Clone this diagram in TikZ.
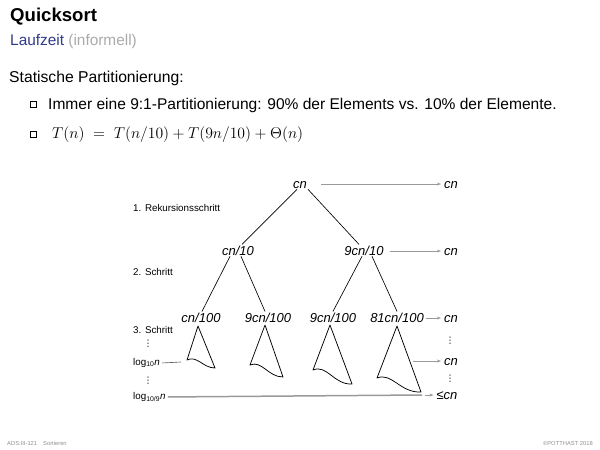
\RequirePackage{fix-cm}
\documentclass[tikz,border=0pt]{standalone}
\usepackage{fontspec}
\setmainfont{Liberation Sans}
\newfontfamily\dejavu{DejaVu Sans}
\usetikzlibrary{arrows.meta,shadows}
\definecolor{titleblue}{HTML}{2E3A87}
\definecolor{lgray}{HTML}{AAAAAA}
\definecolor{agray}{HTML}{9A9A9A}
\definecolor{fgray}{HTML}{909090}
\definecolor{dline}{HTML}{555555}
\begin{document}
\begin{tikzpicture}[x=1pt,y=-1pt,
  ttl/.style={font=\fontsize{18.6}{20}\selectfont\bfseries, anchor=base west, inner sep=0pt},
  body/.style={font=\fontsize{15.7}{19}\selectfont, anchor=base west, inner sep=0pt},
  tlab/.style={font=\fontsize{13}{14}\selectfont\itshape, anchor=base, inner sep=1pt},
  slab/.style={font=\fontsize{9.8}{11}\selectfont, anchor=base west, inner sep=0pt},
  vdots/.style={font=\fontsize{9}{10}\selectfont\dejavu, inner sep=0pt},
  foot/.style={font=\fontsize{5.8}{7}\selectfont, text=fgray, inner sep=0pt},
  bulletbox/.style={draw=black, fill=white, line width=0.5pt, minimum size=5.5pt, inner sep=0pt,
    drop shadow={shadow xshift=0.9pt, shadow yshift=-0.9pt, fill=black!70, opacity=1}},
  garrow/.style={draw=agray, line width=0.5pt, -{Stealth[length=4pt,width=3pt]}},
  tree/.style={line width=0.65pt},
  tri/.style={line width=0.75pt, line join=round}]
\useasboundingbox (0,0) rectangle (600,450);
% header
\node[ttl] (title) at (10,21.5) {Quicksort};
\node[body, font=\fontsize{15.4}{18}\selectfont] (sub) at (10,45) {\textcolor{titleblue}{Laufzeit} \textcolor{lgray}{(informell)}};
\node[body] (intro) at (9,82.5) {Statische Partitionierung:};
\node[bulletbox] (b1) at (33,104) {};
\node[body, font=\fontsize{15.55}{19}\selectfont] (t1) at (48,109.5) {Immer eine 9:1-Partitionierung: 90\% der Elements vs. 10\% der Elemente.};
\node[bulletbox] (b2) at (33,134) {};
\node[body] (t2) at (52,138.5) {$T(n) \;=\; T(n/10)+T(9n/10)+\Theta(n)$};
% tree
\node[tlab] (root) at (300,188) {cn};
\node[tlab] (l) at (238,255) {cn/10};
\node[tlab] (r) at (364,255) {9cn/10};
\node[tlab] (ll) at (201,322) {cn/100};
\node[tlab] (lr) at (268,322) {9cn/100};
\node[tlab] (rl) at (333,322) {9cn/100};
\node[tlab] (rr) at (397,322) {81cn/100};
\node[tlab] (rc1) at (451,188) {cn};
\node[tlab] (rc2) at (451,255) {cn};
\node[tlab] (rc3) at (451,322) {cn};
\node[tlab] (rc4) at (451,365) {cn};
\node[tlab] (rc5) at (447,399) {\textup{≤}cn};
\node[vdots] (rd1) at (450,341) {⋮};
\node[vdots] (rd2) at (450,379) {⋮};
% left labels
\node[slab] (s1) at (133,211.5) {1. Rekursionsschritt};
\node[slab] (s2) at (133,275.5) {2. Schritt};
\node[slab] (s3) at (133,333.5) {3. Schritt};
\node[vdots] (ld1) at (148,344) {⋮};
\node[slab] (lg1) at (133,365.5) {log\textsubscript{10}\textit{n}};
\node[vdots] (ld2) at (148,381) {⋮};
\node[slab] (lg2) at (133,399.5) {log\textsubscript{10/9}\textit{n}};
\coordinate (c1) at (181,362);
\coordinate (c2) at (422,395);
\coordinate (a4) at (413,361);
% tree edges
\draw[tree] ([xshift=-3pt]root.south) -- ([xshift=4pt]l.north);
\draw[tree] ([xshift=8pt]root.south) -- ([xshift=-5pt]r.north);
\draw[tree] ([xshift=-8pt]l.south) -- ([xshift=1pt]ll.north);
\draw[tree] ([xshift=3pt]l.south) -- ([xshift=-3pt]lr.north);
\draw[tree] ([xshift=-2pt]r.south) -- ([xshift=0pt]rl.north);
\draw[tree] ([xshift=8pt]r.south) -- ([xshift=0pt]rr.north);
% triangles
\draw[tri] (198,326) -- (187,360) .. controls (197,355) and (203,368) .. (215,368) -- cycle;
\draw[tri] (265,325) -- (250,365) .. controls (262,360) and (268,377) .. (283,377) -- cycle;
\draw[tri] (330,325) -- (313,370) .. controls (327,364) and (334,385) .. (352,384) -- cycle;
\draw[tri] (397,326) -- (377,378) .. controls (392,372) and (400,393) .. (421,392) -- cycle;
% arrows
\draw[garrow] ([xshift=13pt,yshift=4pt]root.base east) -- ([xshift=-2pt,yshift=4pt]rc1.base west);
\draw[garrow] ([xshift=5pt,yshift=4pt]r.base east) -- ([xshift=-2pt,yshift=4pt]rc2.base west);
\draw[garrow] ([xshift=1pt,yshift=4pt]rr.base east) -- ([xshift=-2pt,yshift=4pt]rc3.base west);
\draw[garrow] (a4) -- ([xshift=-2pt,yshift=4pt]rc4.base west);
\draw[dline, line width=0.6pt] ([xshift=2pt]lg1.east) -- (c1);
\draw[agray, line width=1.5pt] ([xshift=2pt]lg2.east) -- (c2);
\draw[garrow] ([xshift=3pt]c2) -- ([xshift=-2pt,yshift=4pt]rc5.base west);
% footer
\node[foot, anchor=base west] (f1) at (7,445) {ADS:III-121\hspace{6pt}Sortieren};
\node[foot, anchor=base east] (f2) at (593,445) {©POTTHAST 2018};
\end{tikzpicture}
\end{document}
